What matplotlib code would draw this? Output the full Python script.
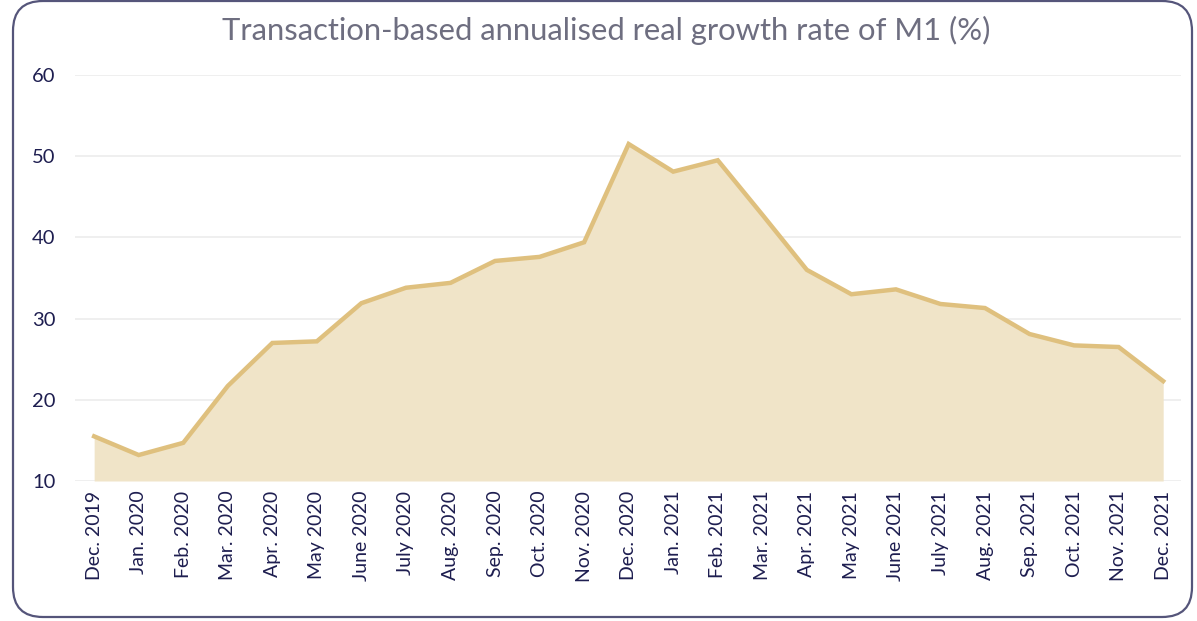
import matplotlib
matplotlib.use("Agg")
import matplotlib.pyplot as plt
from matplotlib.patches import FancyBboxPatch

months = ["Dec. 2019", "Jan. 2020", "Feb. 2020", "Mar. 2020", "Apr. 2020", "May 2020",
          "June 2020", "July 2020", "Aug. 2020", "Sep. 2020", "Oct. 2020", "Nov. 2020",
          "Dec. 2020", "Jan. 2021", "Feb. 2021", "Mar. 2021", "Apr. 2021", "May 2021",
          "June 2021", "July 2021", "Aug. 2021", "Sep. 2021", "Oct. 2021", "Nov. 2021",
          "Dec. 2021"]
growth = [15.5, 13.2, 14.7, 21.7, 27.0, 27.2, 31.9, 33.8, 34.4, 37.1, 37.6, 39.4,
          51.5, 48.1, 49.5, 42.8, 36.0, 33.0, 33.6, 31.8, 31.3, 28.1, 26.7, 26.5, 22.3]
yticks = [10, 20, 30, 40, 50, 60]
title = "Transaction-based annualised real growth rate of M1 (%)"

plt.rcParams['font.family'] = ['Lato', 'DejaVu Sans']

W, H = 1197, 621
fig = plt.figure(figsize=(W / 100, H / 100), dpi=100)

# rounded frame
frame = FancyBboxPatch((13 / W, 4 / H), (1192 - 13) / W, (620 - 4) / H,
                       boxstyle="round,pad=0,rounding_size=0.025",
                       transform=fig.transFigure, facecolor="white",
                       edgecolor="#55557a", linewidth=1.6, mutation_aspect=W / H,
                       zorder=-10)
fig.patches.append(frame)

ax = fig.add_axes([75 / W, (H - 481) / H, (1181 - 75) / W, (481 - 75) / H])
ax.set_zorder(5)
ax.set_facecolor("none")
x = list(range(len(months)))
ax.fill_between(x, 10, growth, color="#f0e4c8", linewidth=0, zorder=2)
ax.plot(x, growth, color="#dfc07e", linewidth=3.2, zorder=3, solid_joinstyle="miter")

ax.set_ylim(10, 60)
ax.set_xlim(-0.43, 24.4)
ax.set_yticks(yticks)
ax.set_xticks(x)
ax.set_xticklabels(months, rotation=90, fontsize=14, color="#1e1e50")
ax.tick_params(axis="y", labelsize=14.5, labelcolor="#1e1e50", length=0, pad=14)
ax.tick_params(axis="x", length=0, pad=7)
ax.grid(axis="y", color="#ececec", linewidth=1.2, zorder=1)
ax.set_axisbelow(True)
for s in ax.spines.values():
    s.set_visible(False)

fig.text(606 / W, 1 - 30 / H, title, ha="center", va="center", fontsize=22.3,
         color="#6e6e80")

fig.savefig("out.png", dpi=100)
